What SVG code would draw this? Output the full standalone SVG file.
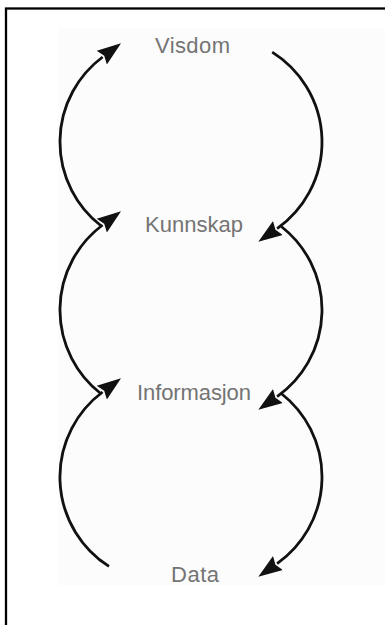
<svg xmlns="http://www.w3.org/2000/svg" width="385" height="625" viewBox="0 0 385 625">
  <style>
    .label { font-family: "Liberation Sans", Arial, sans-serif; font-size: 22px; fill: #747474; text-anchor: middle; }
    .arc { fill: none; stroke: #111; stroke-width: 2.8; stroke-linecap: butt; }
  </style>
  <defs>
    <marker id="head" markerUnits="userSpaceOnUse" viewBox="0 -10 26 20" refX="1" refY="0" markerWidth="26" markerHeight="20" orient="auto">
      <path d="M0,-8.5 L24,0 L0,8.5 L3,0 Z" fill="#111"/>
    </marker>
  </defs>

  <rect x="0" y="0" width="385" height="625" fill="#ffffff"/>
  <rect x="58" y="28" width="327" height="557" fill="#fcfcfc"/>
  <rect x="6" y="8.5" width="420" height="660" fill="none" stroke="#000" stroke-width="2.3"/>

  <g id="connectors">
    <!-- upper loop: Kunnskap -> Visdom (left), Visdom -> Kunnskap (right) -->
    <path class="arc" d="M100.7,225.5 A106,106 0 0 1 102.6,57" marker-end="url(#head)"/>
    <path class="arc" d="M272.2,52.1 A106,106 0 0 1 277.1,228.6" marker-end="url(#head)"/>
    <!-- middle loop: Informasjon -> Kunnskap, Kunnskap -> Informasjon -->
    <path class="arc" d="M100.7,393.5 A106,106 0 0 1 102.6,225" marker-end="url(#head)"/>
    <path class="arc" d="M281.3,226.5 A106,106 0 0 1 277.1,396.6" marker-end="url(#head)"/>
    <!-- lower loop: Data -> Informasjon, Informasjon -> Data -->
    <path class="arc" d="M109,566.4 A106,106 0 0 1 102.6,392" marker-end="url(#head)"/>
    <path class="arc" d="M281.3,393.5 A106,106 0 0 1 277.1,563.6" marker-end="url(#head)"/>
  </g>

  <g id="visdom"><text class="label" x="192.5" y="53" textLength="75">Visdom</text></g>
  <g id="kunnskap"><text class="label" x="194" y="232" textLength="98">Kunnskap</text></g>
  <g id="informasjon"><text class="label" x="194" y="400" textLength="114">Informasjon</text></g>
  <g id="data"><text class="label" x="195" y="582" textLength="48">Data</text></g>
</svg>
